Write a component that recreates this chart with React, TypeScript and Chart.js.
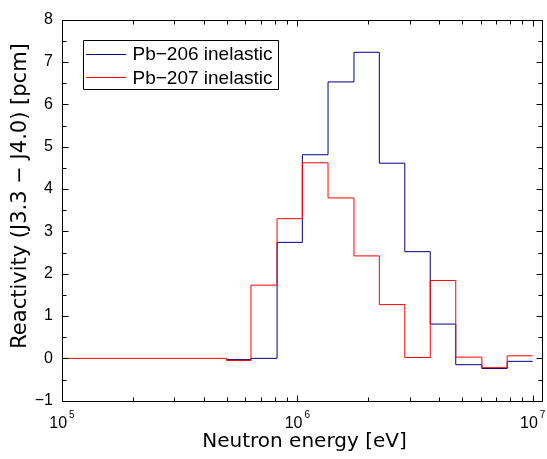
import React, { useEffect, useRef } from "react";
import { Chart, registerables } from "chart.js";

Chart.register(...registerables);

// Bin edges [eV] and reactivity values [pcm]
const blueEdges = [5.0e5, 6.35e5, 8.2e5, 1.05e6, 1.35e6, 1.74e6, 2.23e6, 2.86e6, 3.67e6, 4.71e6, 6.08e6, 7.79e6, 1.0e7];
const blueValues = [-0.03, 0.0, 2.74, 4.81, 6.53, 7.23, 4.61, 2.52, 0.81, -0.15, -0.24, -0.07];

const redEdges = [1.0e5, 5.0e5, 6.35e5, 8.2e5, 1.05e6, 1.35e6, 1.74e6, 2.23e6, 2.86e6, 3.67e6, 4.71e6, 6.08e6, 7.79e6, 1.0e7];
const redValues = [0.0, -0.05, 1.73, 3.3, 4.62, 3.79, 2.42, 1.27, 0.02, 1.84, 0.03, -0.22, 0.06];

const seriesLabels = ["Pb\u2212206 inelastic", "Pb\u2212207 inelastic"];
const seriesColors = ["#000080", "#ff0000"];

const xExponents = [5, 6, 7];
const yTickValues = [-1, 0, 1, 2, 3, 4, 5, 6, 7, 8];

const xTitle = "Neutron energy [eV]";
const yTitle = "Reactivity (J3.3 \u2212 J4.0) [pcm]";

function toSteps(edges: number[], values: number[]) {
  return edges.map((e, i) => ({ x: e, y: values[Math.min(i, values.length - 1)] }));
}

const decorPlugin = {
  id: "decor",
  afterDraw(chart: any) {
    const ctx = chart.ctx as CanvasRenderingContext2D;
    const a = chart.chartArea;
    const xs = chart.scales.x;
    const ys = chart.scales.y;
    const L = Math.round(a.left) + 0.5;
    const R = Math.round(a.right) + 0.5;
    const T = Math.round(a.top) + 0.5;
    const B = Math.round(a.bottom) + 0.5;
    ctx.save();
    ctx.strokeStyle = "#000";
    ctx.lineWidth = 1;
    ctx.beginPath();
    ctx.rect(L, T, R - L, B - T);
    ctx.stroke();

    // y ticks (inward)
    ctx.beginPath();
    for (let v = ys.min; v <= ys.max + 1e-9; v += 0.5) {
      const py = Math.round(ys.getPixelForValue(v)) + 0.5;
      const len = Math.abs(v - Math.round(v)) < 1e-9 ? 6 : 4;
      ctx.moveTo(L, py);
      ctx.lineTo(L + len, py);
      ctx.moveTo(R, py);
      ctx.lineTo(R - len, py);
    }
    // x ticks (inward)
    for (let d = 5; d <= 7; d++) {
      for (let m = 1; m <= 9; m++) {
        const v = m * Math.pow(10, d);
        if (v < xs.min - 1 || v > xs.max) continue;
        const px = Math.round(xs.getPixelForValue(v)) + 0.5;
        const len = m === 1 ? 6 : 4;
        ctx.moveTo(px, B);
        ctx.lineTo(px, B - len);
        ctx.moveTo(px, T);
        ctx.lineTo(px, T + len);
      }
    }
    ctx.stroke();

    // x tick labels 10^n
    ctx.fillStyle = "#000";
    ctx.textBaseline = "alphabetic";
    ctx.textAlign = "left";
    for (const e of xExponents) {
      const px = xs.getPixelForValue(Math.pow(10, e));
      ctx.font = "16px 'Liberation Sans', Arial, sans-serif";
      const wBase = ctx.measureText("10").width;
      ctx.font = "10px 'Liberation Sans', Arial, sans-serif";
      const wExp = ctx.measureText(String(e)).width;
      const total = wBase + 2 + wExp;
      const x0 = px - total / 2;
      ctx.font = "16px 'Liberation Sans', Arial, sans-serif";
      ctx.fillText("10", x0, 428);
      ctx.font = "10px 'Liberation Sans', Arial, sans-serif";
      ctx.fillText(String(e), x0 + wBase + 2, 418);
    }

    // axis titles
    ctx.font = "20px 'DejaVu Sans', sans-serif";
    ctx.textAlign = "center";
    ctx.fillText(xTitle, 304.5, 446.5);
    ctx.save();
    ctx.translate(25.5, 196);
    ctx.rotate(-Math.PI / 2);
    ctx.font = "21px 'DejaVu Sans', sans-serif";
    ctx.fillText(yTitle, 0, 0);
    ctx.restore();

    // legend
    ctx.beginPath();
    ctx.rect(83.5, 40.5, 195, 49);
    ctx.fillStyle = "#fff";
    ctx.fill();
    ctx.strokeStyle = "#000";
    ctx.stroke();
    ctx.font = "19px 'Liberation Sans', Arial, sans-serif";
    ctx.textAlign = "left";
    seriesLabels.forEach((lab, i) => {
      const cy = 53.5 + i * 23.5;
      ctx.strokeStyle = seriesColors[i];
      ctx.beginPath();
      ctx.moveTo(86, Math.round(cy) + 0.5);
      ctx.lineTo(126, Math.round(cy) + 0.5);
      ctx.stroke();
      ctx.fillStyle = "#000";
      ctx.fillText(lab, 132.5, cy + 6.8);
    });
    ctx.restore();
  },
};

export default function App() {
  const ref = useRef<HTMLCanvasElement | null>(null);
  useEffect(() => {
    if (!ref.current) return;
    const chart = new Chart(ref.current, {
      type: "line",
      data: {
        datasets: [
          {
            label: seriesLabels[0],
            data: toSteps(blueEdges, blueValues),
            borderColor: seriesColors[0],
            borderWidth: 1,
            pointRadius: 0,
            stepped: "before",
            fill: false,
            order: 2,
          },
          {
            label: seriesLabels[1],
            data: toSteps(redEdges, redValues),
            borderColor: seriesColors[1],
            borderWidth: 1,
            pointRadius: 0,
            stepped: "before",
            fill: false,
            order: 1,
          },
        ],
      },
      options: {
        responsive: false,
        animation: false,
        layout: { padding: { top: 19.7, right: 5, left: 0, bottom: 0 } },
        plugins: { legend: { display: false }, tooltip: { enabled: false } },
        scales: {
          x: {
            type: "logarithmic",
            min: 1e5,
            max: 1.095e7,
            grid: { display: false },
            border: { display: false },
            ticks: { display: false },
            afterFit: (s: any) => {
              s.height = 58.3;
            },
          },
          y: {
            type: "linear",
            min: -1,
            max: 8,
            grid: { display: false, drawTicks: false },
            border: { display: false },
            afterBuildTicks: (s: any) => {
              s.ticks = yTickValues.map((v) => ({ value: v }));
            },
            ticks: {
              padding: 9,
              color: "#000",
              font: { family: "'Liberation Sans', Arial, sans-serif", size: 16 },
              callback: (v: any) => String(v).replace("-", "\u2212"),
            },
            afterFit: (s: any) => {
              s.width = 62;
            },
          },
        },
      },
      plugins: [decorPlugin],
    });
    return () => chart.destroy();
  }, []);
  return (
    <div style={{ position: "fixed", left: 0, top: 0, width: 547, height: 459, background: "#fff" }}>
      <canvas ref={ref} width={547} height={459} style={{ width: 547, height: 459 }} />
    </div>
  );
}
